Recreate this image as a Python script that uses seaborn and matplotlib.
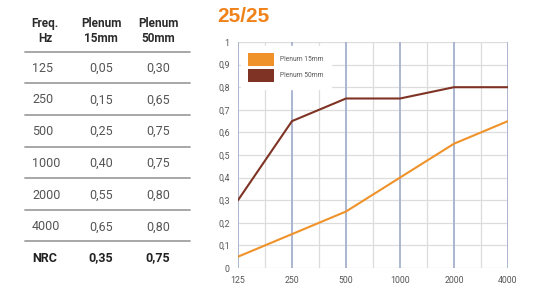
import numpy as np
import pandas as pd
import matplotlib
matplotlib.use('Agg')
import matplotlib.pyplot as plt
import seaborn as sns
from matplotlib.patches import Patch

# Datos
freqs = ['125', '250', '500', '1000', '2000', '4000']
plenum_15 = [0.05, 0.15, 0.25, 0.40, 0.55, 0.65]
plenum_50 = [0.30, 0.65, 0.75, 0.75, 0.80, 0.80]
nrc_labels = ['0,35', '0,75']
series_names = ['Plenum 15mm', 'Plenum 50mm']
yticks = [0, 0.1, 0.2, 0.3, 0.4, 0.5, 0.6, 0.7, 0.8, 0.9, 1]

orange = '#f0922a'
brown = '#7f3324'
text_grey = '#555555'

sns.set_style('white')
plt.rcParams['font.family'] = ['Roboto', 'DejaVu Sans']

W, H = 535, 290
fig = plt.figure(figsize=(W / 100, H / 100), dpi=100)


def fx(px):
    return px / W


def fy(py):
    return 1 - py / H


def fmt(v):
    return f'{v:.2f}'.replace('.', ',')


# --- tabla de la izquierda ---
cols_x = [45, 101, 158]
headers = ['Freq.\nHz', 'Plenum\n15mm', 'Plenum\n50mm']
for cx, h in zip(cols_x, headers):
    fig.text(fx(cx), fy(31), h, ha='center', va='center',
             fontsize=8.5, fontweight='bold', color='#2b2b2b', linespacing=1.15)

sep_y = [52, 83, 115, 147, 178, 210, 241]
for py in sep_y:
    fig.add_artist(plt.Line2D([fx(25), fx(190)], [fy(py), fy(py)],
                              color='#a0a0a0', lw=1.3, transform=fig.transFigure))

rows = list(zip(freqs, plenum_15, plenum_50))
for i, (f, a, b) in enumerate(rows):
    py = 68 + i * 31.8
    fig.text(fx(32), fy(py), f, ha='left', va='center', fontsize=9, color=text_grey)
    fig.text(fx(cols_x[1]), fy(py), fmt(a), ha='center', va='center', fontsize=9, color=text_grey)
    fig.text(fx(cols_x[2]), fy(py), fmt(b), ha='center', va='center', fontsize=9, color=text_grey)
py = 258
fig.text(fx(32), fy(py), 'NRC', ha='left', va='center', fontsize=9,
         fontweight='bold', color='#222222')
fig.text(fx(cols_x[1]), fy(py), nrc_labels[0], ha='center', va='center',
         fontsize=9, fontweight='bold', color='#222222')
fig.text(fx(cols_x[2]), fy(py), nrc_labels[1], ha='center', va='center',
         fontsize=9, fontweight='bold', color='#222222')

# --- titulo ---
fig.text(fx(217), fy(16), '25/25', ha='left', va='center',
         family=['Liberation Sans', 'DejaVu Sans'], fontsize=15,
         fontweight='bold', color='#f0821a')

# --- grafico ---
ax = fig.add_axes([fx(238), fy(268), fx(508) - fx(238), (268 - 42) / H])

df = pd.DataFrame({
    'pos': list(range(len(freqs))) * 2,
    'valor': plenum_15 + plenum_50,
    'serie': [series_names[0]] * len(freqs) + [series_names[1]] * len(freqs),
})
sns.lineplot(data=df, x='pos', y='valor', hue='serie',
             palette={series_names[0]: orange, series_names[1]: brown},
             linewidth=1.5, ax=ax, legend=False, zorder=3)

n = len(freqs)
ax.set_xlim(0, n - 1)
ax.set_ylim(0, 1)
for y in yticks:
    ax.axhline(y, color='#dcdcdc', lw=0.9, zorder=1)
for x in np.arange(0.5, n - 1, 1):
    ax.axvline(x, color='#dcdcdc', lw=0.9, zorder=1)
for x in range(n):
    ax.axvline(x, color='#aab5d0', lw=1.4, zorder=2)

ax.set_xticks(range(n))
ax.set_xticklabels(freqs)
ax.set_yticks(yticks)
ax.set_yticklabels([f'{v:g}'.replace('.', ',') for v in yticks])
ax.tick_params(axis='both', length=0, labelsize=6.3, colors=text_grey, pad=6)
ax.set_xlabel('')
ax.set_ylabel('')
for s in ax.spines.values():
    s.set_visible(False)

handles = [Patch(facecolor=orange, edgecolor='none', label=series_names[0]),
           Patch(facecolor=brown, edgecolor='none', label=series_names[1])]
leg = ax.legend(handles=handles, loc='upper left', bbox_to_anchor=(0.005, 0.99),
                frameon=True, fontsize=4.8, handlelength=3.9, handleheight=2.6,
                labelspacing=0.45, borderpad=1.1, handletextpad=0.9,
                borderaxespad=0.2)
leg.get_frame().set_facecolor('white')
leg.get_frame().set_edgecolor('white')
leg.get_frame().set_alpha(1)
leg.set_zorder(5)
for t in leg.get_texts():
    t.set_color(text_grey)

fig.savefig('out.png', dpi=100)
